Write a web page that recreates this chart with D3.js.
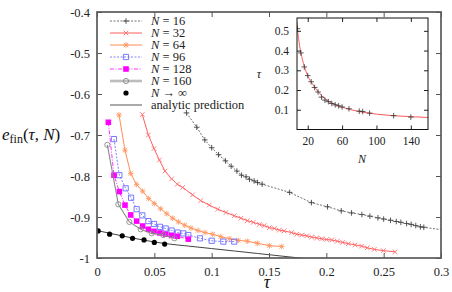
<!DOCTYPE html>
<html>
<head>
<meta charset="utf-8">
<script src="https://cdn.jsdelivr.net/npm/d3@7"></script>
<style>
body { margin: 0; background: #fff; }
svg text { font-family: "Liberation Serif", "DejaVu Serif", serif; }
</style>
</head>
<body>
<div id="my_dataviz"></div>
<script>
(function(){
// ---- data ----
var xTicks = [0, 0.05, 0.1, 0.15, 0.2, 0.25, 0.3];
var xTickLabels = ["0", "0.05", "0.1", "0.15", "0.2", "0.25", "0.3"];
var yTicks = [-0.4, -0.5, -0.6, -0.7, -0.8, -0.9, -1];
var yTickLabels = ["-0.4", "-0.5", "-0.6", "-0.7", "-0.8", "-0.9", "-1"];

var tau16 = [0.078, 0.087, 0.094, 0.100, 0.106, 0.112, 0.117, 0.122, 0.126, 0.130, 0.133, 0.137, 0.140, 0.144,
             0.168, 0.187, 0.201, 0.213, 0.222, 0.231, 0.238, 0.245, 0.250, 0.256, 0.261, 0.265, 0.270, 0.274, 0.278, 0.282, 0.285, 0.31];
var e16 = [-0.646, -0.681, -0.712, -0.731, -0.748, -0.763, -0.776, -0.788, -0.798, -0.802, -0.808, -0.812, -0.816, -0.820,
           -0.840, -0.865, -0.875, -0.885, -0.890, -0.894, -0.898, -0.902, -0.905, -0.908, -0.911, -0.913, -0.916, -0.918, -0.921, -0.924, -0.925, -0.935];

var tau32 = [0.0395, 0.0448, 0.0497, 0.0544, 0.0593, 0.0651, 0.0700, 0.0747, 0.0834, 0.0904, 0.0979, 0.1052, 0.1125, 0.1197,
             0.1256, 0.1311, 0.1363, 0.1416, 0.1459, 0.1503, 0.1546, 0.1590, 0.1631, 0.1698, 0.1741, 0.1785, 0.1829, 0.1872,
             0.1916, 0.1960, 0.2003, 0.2047, 0.2096, 0.2143, 0.2192, 0.2250, 0.2308, 0.2357, 0.2418, 0.2497, 0.2599];
var e32 = [-0.650, -0.700, -0.733, -0.761, -0.788, -0.807, -0.820, -0.828, -0.846, -0.860, -0.871, -0.881, -0.889, -0.897,
           -0.903, -0.909, -0.913, -0.918, -0.921, -0.926, -0.928, -0.932, -0.934, -0.938, -0.942, -0.944, -0.946, -0.949,
           -0.951, -0.953, -0.955, -0.956, -0.959, -0.962, -0.965, -0.968, -0.971, -0.975, -0.979, -0.982, -0.985];

var tau64 = [0.0192, 0.0244, 0.0294, 0.0346, 0.0398, 0.0450, 0.0500, 0.0555, 0.0608, 0.0660, 0.0710, 0.0765, 0.0820, 0.0880,
             0.0942, 0.1009, 0.1079, 0.1154, 0.1232, 0.1311, 0.1398, 0.1503, 0.1610];
var e64 = [-0.651, -0.737, -0.794, -0.821, -0.837, -0.855, -0.867, -0.880, -0.892, -0.903, -0.912, -0.920, -0.927, -0.933,
           -0.938, -0.942, -0.948, -0.953, -0.957, -0.959, -0.964, -0.970, -0.972];

var tau96 = [0.0148, 0.0195, 0.0250, 0.0297, 0.0346, 0.0395, 0.0448, 0.0497, 0.0549, 0.0599, 0.0651, 0.0704, 0.0753, 0.0796,
             0.0898, 0.1000, 0.1102, 0.1197];
var e96 = [-0.710, -0.798, -0.830, -0.853, -0.881, -0.896, -0.910, -0.917, -0.924, -0.928, -0.933, -0.938, -0.940, -0.944,
           -0.952, -0.958, -0.960, -0.960];

var tau128 = [0.0099, 0.0148, 0.0195, 0.0244, 0.0294, 0.0346, 0.0398, 0.0448, 0.0497, 0.0549, 0.0599, 0.0650, 0.0700, 0.0796];
var e128 = [-0.669, -0.798, -0.838, -0.871, -0.895, -0.910, -0.922, -0.930, -0.935, -0.939, -0.942, -0.945, -0.947, -0.954];

var tau160 = [0.0090, 0.0186, 0.0282, 0.0381, 0.0477, 0.0578, 0.0675];
var e160 = [-0.724, -0.869, -0.912, -0.930, -0.940, -0.944, -0.952];

var tauInf = [0.001, 0.011, 0.022, 0.031, 0.041, 0.050, 0.059];
var eInf = [-0.934, -0.942, -0.946, -0.952, -0.956, -0.962, -0.966];

var tauAnalytic = [0, 0.02, 0.04, 0.06, 0.08, 0.1, 0.12, 0.14, 0.17, 0.2];
var eAnalytic = [-0.933, -0.945, -0.956, -0.965, -0.971, -0.977, -0.983, -0.989, -0.998, -1.007];

// inset
var insetXTicks = [20, 60, 100, 140];
var insetYTicks = [0.1, 0.2, 0.3, 0.4, 0.5];
var insetN = [8, 12, 16, 20, 24, 28, 32, 36, 40, 44, 48, 52, 56, 60, 68, 80, 84, 92, 120, 140];
var insetTau = [0.511, 0.388, 0.317, 0.273, 0.242, 0.213, 0.190, 0.164, 0.149, 0.141, 0.132, 0.125, 0.120, 0.114,
                0.105, 0.093, 0.091, 0.083, 0.070, 0.063];
var fitN = [7.5, 8, 10, 12, 16, 20, 24, 28, 36, 44, 52, 60, 80, 100, 120, 140, 160];
var fitTau = [0.545, 0.515, 0.440, 0.390, 0.320, 0.272, 0.240, 0.215, 0.172, 0.143, 0.126, 0.113, 0.091, 0.078, 0.070, 0.065, 0.061];

var legendLabels = ["16", "32", "64", "96", "128", "160"];

var SERIF = "'Liberation Serif', 'DejaVu Serif', serif";

// set the dimensions and margins of the graph
var margin = { top: 12, right: 11, bottom: 34, left: 97 },
    width = 452 - margin.left - margin.right,
    height = 292 - margin.top - margin.bottom;

var root = d3.select("#my_dataviz")
    .append("svg")
    .attr("width", 452)
    .attr("height", 292)
    .attr("font-family", SERIF);

var svg = root.append("g")
    .attr("transform", "translate(" + margin.left + "," + margin.top + ")");

var x = d3.scaleLinear().domain([0, 0.3]).range([0, width]);
var y = d3.scaleLinear().domain([-1, -0.4]).range([height, 0]);

function markerPath(type, s) {
    if (type == "plus") return "M" + (-s) + ",0H" + s + "M0," + (-s) + "V" + s;
    if (type == "cross") return "M" + (-s) + "," + (-s) + "L" + s + "," + s + "M" + (-s) + "," + s + "L" + s + "," + (-s);
    if (type == "star") return markerPath("plus", s * 1.25) + markerPath("cross", s);
    if (type == "square") return "M" + (-s) + "," + (-s) + "h" + 2 * s + "v" + 2 * s + "h" + (-2 * s) + "Z";
    return "M" + s + ",0A" + s + "," + s + " 0 1,1 " + (-s) + ",0A" + s + "," + s + " 0 1,1 " + s + ",0Z";
}

var series = [
    { tau: tau16, e: e16, line: "#333", lw: 0.7, dash: "2,1.5", marker: "plus", ms: 2.8, mstroke: "#444", mfill: "none" },
    { tau: tau32, e: e32, line: "#ff4a4a", lw: 0.9, dash: null, marker: "cross", ms: 2.3, mstroke: "#ff7070", mfill: "none" },
    { tau: tau64, e: e64, line: "#ff8040", lw: 0.9, dash: null, marker: "star", ms: 2.2, mstroke: "#ff9a66", mfill: "none" },
    { tau: tau96, e: e96, line: "#6262ff", lw: 0.8, dash: "2,1.5", marker: "square", ms: 2.6, mstroke: "#6a6aff", mfill: "none" },
    { tau: tau128, e: e128, line: "#ff00ff", lw: 0.8, dash: "4,1.5,1,1.5", marker: "square", ms: 2.8, mstroke: "none", mfill: "#ff00ff" },
    { tau: tau160, e: e160, line: "#8a8a8a", lw: 1.1, dash: null, marker: "circle", ms: 2.6, mstroke: "#8a8a8a", mfill: "none" }
];

svg.append("clipPath").attr("id", "plotclip")
    .append("rect").attr("width", width).attr("height", height);

var plot = svg.append("g").attr("clip-path", "url(#plotclip)");

var line = d3.line()
    .x(function (d) { return x(d[0]); })
    .y(function (d) { return y(d[1]); });

// analytic prediction
plot.append("path")
    .datum(d3.zip(tauAnalytic, eAnalytic))
    .attr("fill", "none")
    .attr("stroke", "#444")
    .attr("stroke-width", 1)
    .attr("d", line.curve(d3.curveMonotoneX));
line.curve(d3.curveLinear);

series.forEach(function (s) {
    var pts = d3.zip(s.tau, s.e);
    plot.append("path")
        .datum(pts)
        .attr("fill", "none")
        .attr("stroke", s.line)
        .attr("stroke-width", s.lw)
        .attr("stroke-dasharray", s.dash)
        .attr("d", line);
    plot.selectAll(null)
        .data(pts)
        .enter().append("path")
        .attr("transform", function (d) { return "translate(" + x(d[0]) + "," + y(d[1]) + ")"; })
        .attr("d", markerPath(s.marker, s.ms))
        .attr("fill", s.mfill)
        .attr("stroke", s.mstroke)
        .attr("stroke-width", 0.9);
});

// N -> infinity
plot.selectAll(null)
    .data(d3.zip(tauInf, eInf))
    .enter().append("circle")
    .attr("cx", function (d) { return x(d[0]); })
    .attr("cy", function (d) { return y(d[1]); })
    .attr("r", 2.6)
    .attr("fill", "#000");

// axes with inward ticks on all sides
function styleAxis(g) {
    g.attr("font-family", SERIF).attr("font-size", 12.5);
    g.select(".domain").remove();
    g.selectAll(".tick line").attr("stroke", "#555");
    g.selectAll(".tick text").attr("fill", "#222");
}
svg.append("g")
    .attr("transform", "translate(0," + height + ")")
    .call(d3.axisBottom(x).tickValues(xTicks).tickFormat(function (d, i) { return xTickLabels[i]; })
        .tickSizeInner(-5).tickSizeOuter(0).tickPadding(9.5))
    .call(styleAxis);
svg.append("g")
    .call(d3.axisTop(x).tickValues(xTicks).tickFormat("").tickSizeInner(-5).tickSizeOuter(0))
    .call(styleAxis);
svg.append("g")
    .call(d3.axisLeft(y).tickValues(yTicks).tickFormat(function (d, i) { return yTickLabels[i]; })
        .tickSizeInner(-5).tickSizeOuter(0).tickPadding(7))
    .call(styleAxis);
svg.append("g")
    .attr("transform", "translate(" + width + ",0)")
    .call(d3.axisRight(y).tickValues(yTicks).tickFormat("").tickSizeInner(-5).tickSizeOuter(0))
    .call(styleAxis);

svg.append("rect")
    .attr("width", width).attr("height", height)
    .attr("fill", "none").attr("stroke", "#5a5a5a").attr("stroke-width", 1.7);

// legend
var legend = svg.append("g").attr("transform", "translate(13,9)");
var legendRows = series.map(function (s, i) { return { s: s, label: legendLabels[i] }; });
legendRows.forEach(function (r, i) {
    var g = legend.append("g").attr("transform", "translate(0," + (i * 12) + ")");
    var isGray = r.s.marker == "circle";
    g.append("line").attr("x1", 0).attr("x2", 32)
        .attr("stroke", isGray ? "#bdbdbd" : r.s.line)
        .attr("stroke-width", isGray ? 2.6 : r.s.lw)
        .attr("stroke-dasharray", r.s.dash);
    g.append("path").attr("transform", "translate(16,0)")
        .attr("d", markerPath(r.s.marker, r.s.ms))
        .attr("fill", r.s.mfill).attr("stroke", r.s.mstroke).attr("stroke-width", 0.9);
    var t = g.append("text").attr("x", 41).attr("y", 4).attr("font-size", 12.5).attr("fill", "#222");
    t.append("tspan").attr("font-style", "italic").text("N");
    t.append("tspan").text(" = " + r.label);
});
var gInf = legend.append("g").attr("transform", "translate(0," + (6 * 12) + ")");
gInf.append("circle").attr("cx", 16).attr("r", 2.6).attr("fill", "#000");
var tInf = gInf.append("text").attr("x", 41).attr("y", 4).attr("font-size", 12.5).attr("fill", "#222");
tInf.append("tspan").attr("font-style", "italic").text("N");
tInf.append("tspan").text(" \u2192 \u221e");
var gAn = legend.append("g").attr("transform", "translate(0," + (7 * 12) + ")");
gAn.append("line").attr("x1", 0).attr("x2", 32).attr("stroke", "#555").attr("stroke-width", 1);
gAn.append("text").attr("x", 41).attr("y", 4).attr("font-size", 12.5).attr("fill", "#222")
    .text("analytic prediction");

// axis labels
var yl = root.append("text").attr("x", 2).attr("y", 140).attr("font-size", 17).attr("fill", "#111");
yl.append("tspan").attr("font-style", "italic").text("e");
yl.append("tspan").attr("dy", 3).attr("font-size", 12).text("fin");
yl.append("tspan").attr("dy", -3).text("(");
yl.append("tspan").attr("font-style", "italic").text("\u03c4");
yl.append("tspan").text(", ");
yl.append("tspan").attr("font-style", "italic").text("N");
yl.append("tspan").text(")");

root.append("text")
    .attr("x", 267).attr("y", 288)
    .attr("text-anchor", "middle")
    .attr("font-size", 18).attr("font-style", "italic").attr("fill", "#111")
    .text("\u03c4");

// ---- inset ----
var inset = root.append("g").attr("transform", "translate(297,18)");
var iw = 131, ih = 111.5;
var xi = d3.scaleLinear().domain([7.5, 160]).range([0, iw]);
var yi = d3.scaleLinear().domain([0, 0.565]).range([ih, 0]);

inset.append("rect").attr("width", iw).attr("height", ih).attr("fill", "#fff");
inset.append("clipPath").attr("id", "insetclip")
    .append("rect").attr("width", iw).attr("height", ih);
var ip = inset.append("g").attr("clip-path", "url(#insetclip)");

ip.append("path")
    .datum(d3.zip(fitN, fitTau))
    .attr("fill", "none")
    .attr("stroke", "#ff5a5a")
    .attr("stroke-width", 1)
    .attr("d", d3.line().curve(d3.curveMonotoneX)
        .x(function (d) { return xi(d[0]); })
        .y(function (d) { return yi(d[1]); }));

ip.selectAll(null)
    .data(d3.zip(insetN, insetTau))
    .enter().append("path")
    .attr("transform", function (d) { return "translate(" + xi(d[0]) + "," + yi(d[1]) + ")"; })
    .attr("d", markerPath("plus", 2.8))
    .attr("stroke", "#333")
    .attr("stroke-width", 0.8);

function styleInset(g) {
    g.attr("font-family", SERIF).attr("font-size", 11.5);
    g.select(".domain").remove();
    g.selectAll(".tick line").attr("stroke", "#222");
    g.selectAll(".tick text").attr("fill", "#222");
}
inset.append("g").attr("transform", "translate(0," + ih + ")")
    .call(d3.axisBottom(xi).tickValues(insetXTicks).tickSizeInner(-4).tickSizeOuter(0).tickPadding(7.3))
    .call(styleInset);
inset.append("g")
    .call(d3.axisTop(xi).tickValues(insetXTicks).tickFormat("").tickSizeInner(-4).tickSizeOuter(0))
    .call(styleInset);
inset.append("g")
    .call(d3.axisLeft(yi).tickValues(insetYTicks).tickFormat(d3.format(".1f")).tickSizeInner(-4).tickSizeOuter(0).tickPadding(8))
    .call(styleInset);
inset.append("g").attr("transform", "translate(" + iw + ",0)")
    .call(d3.axisRight(yi).tickValues(insetYTicks).tickFormat("").tickSizeInner(-4).tickSizeOuter(0))
    .call(styleInset);
inset.append("rect").attr("width", iw).attr("height", ih)
    .attr("fill", "none").attr("stroke", "#111").attr("stroke-width", 1);

root.append("text").attr("x", 259).attr("y", 78).attr("text-anchor", "middle")
    .attr("font-size", 12).attr("font-style", "italic").attr("fill", "#222").text("\u03c4");
root.append("text").attr("x", 362).attr("y", 162.5).attr("text-anchor", "middle")
    .attr("font-size", 12).attr("font-style", "italic").attr("fill", "#222").text("N");
})();
</script>
</body>
</html>
